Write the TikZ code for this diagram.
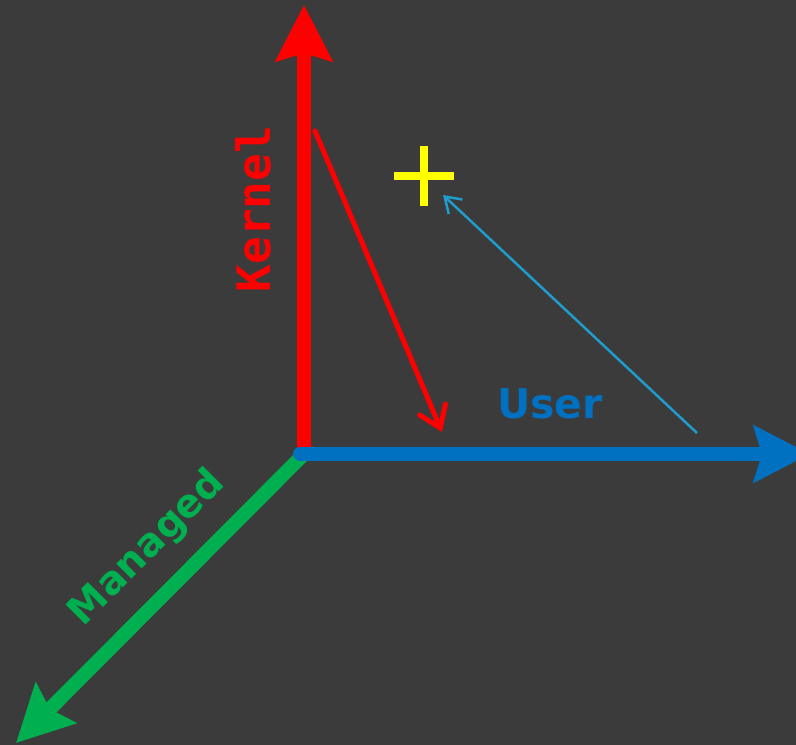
\documentclass[tikz,border=0pt]{standalone}
\usepackage{fontspec}
\usetikzlibrary{arrows.meta}
\newfontfamily\monofont{DejaVu Sans Mono}[BoldFont={* Bold}]
\newfontfamily\labelfont{DejaVu Sans}[BoldFont={* Bold}]
\definecolor{bg}{HTML}{3B3B3B}
\definecolor{kernelred}{HTML}{FF0000}
\definecolor{userblue}{HTML}{0070C0}
\definecolor{managedgreen}{HTML}{00B050}
\definecolor{hintcyan}{HTML}{1F9CCB}
\definecolor{markyellow}{HTML}{FFFF00}
\tikzset{
  axis/.style={line width=14pt, -{Stealth[length=56pt, width=56pt, inset=8pt]}},
  pointer/.style={line width=5pt, line cap=round, line join=round,
    -{Straight Barb[length=20pt, width=28pt, line cap=round]}},
  hint/.style={line width=2.5pt, hintcyan,
    -{Straight Barb[length=15pt, width=20pt]}},
  axislabel/.style={inner sep=0pt, anchor=base, font=\bfseries}
}
\begin{document}
\begin{tikzpicture}[x=1pt, y=-1pt]
  \path[use as bounding box, fill=bg] (0,0) rectangle (796,745);
  \clip (0,0) rectangle (796,745);

  % axis end points
  \coordinate (o) at (304,454);
  \coordinate (redstart) at (304,452);
  \coordinate (greenstart) at (303,455);
  \coordinate (bluestart) at (300,454);
  \coordinate (kernelend) at (304,5);
  \coordinate (userend) at (810,454);
  \coordinate (managedend) at (16,743);

  % axes
  \draw[axis, managedgreen] (greenstart) -- (managedend);
  \draw[axis, kernelred] (redstart) -- (kernelend);
  \draw[axis, userblue, line cap=round] (bluestart) -- (userend);

  % axis labels
  \node[axislabel, rotate=90, kernelred, font=\monofont\bfseries\fontsize{46}{46}\selectfont]
    (kernel) at (270,209) {Kernel};
  \node[axislabel, userblue, font=\labelfont\bfseries\fontsize{41}{41}\selectfont]
    (user) at (550,418) {User};
  \node[axislabel, rotate=45, managedgreen, font=\labelfont\bfseries\fontsize{39}{39}\selectfont]
    (managed) at (155,556) {Managed};

  % red pointer from the kernel axis down towards the user axis
  \coordinate (ptrstart) at (315,131);
  \coordinate (ptrend) at (442,432);
  \draw[pointer, kernelred] (ptrstart) -- (ptrend);

  % yellow marker
  \coordinate (mark) at (424,176);
  \draw[markyellow, line width=8pt] ([xshift=-30pt]mark) -- ([xshift=30pt]mark);
  \draw[markyellow, line width=8pt] ([yshift=-30pt]mark) -- ([yshift=30pt]mark);

  % thin cyan arrow towards the marker
  \coordinate (hintstart) at (697,433);
  \coordinate (hintend) at (443,195);
  \draw[hint] (hintstart) -- (hintend);
\end{tikzpicture}
\end{document}
